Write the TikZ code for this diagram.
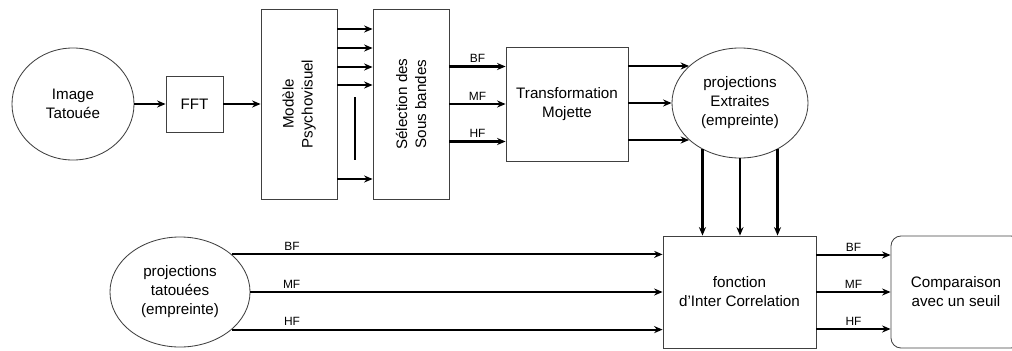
\documentclass[tikz,border=0pt]{standalone}
\usepackage{fontspec}
\setmainfont{Liberation Sans}
\usetikzlibrary{shapes.geometric, arrows.meta, positioning}

\begin{document}
\begin{tikzpicture}[
    x=0.025cm, y=-0.025cm,
    blk/.style={draw=black!75, line width=0.6pt, align=center, font=\fontsize{10.8}{13.5}\selectfont, inner sep=0pt},
    ell/.style={blk, ellipse},
    arr/.style={-{Stealth[length=6pt, width=5pt]}, line width=1.5pt},
    lbl/.style={font=\fontsize{8.5}{10}\selectfont, inner sep=2pt},
]
    \useasboundingbox (0,0) rectangle (1012,350);

    % upper chain
    \node[ell, minimum width=3.05cm, minimum height=2.8cm] (img) at (73,104) {Image\\Tatouée};
    \node[blk, minimum width=1.425cm, minimum height=1.4cm] (fft) at (194.5,104) {FFT};
    \node[blk, minimum width=1.9cm, minimum height=4.75cm] (psy) at (299,104) {};
    \node[rotate=90, align=center, font=\fontsize{10.8}{13.5}\selectfont] at (psy) {Modèle\\Psychovisuel};
    \node[blk, minimum width=1.9cm, minimum height=4.75cm] (sel) at (411,104) {};
    \node[rotate=90, align=center, font=\fontsize{10.8}{13.5}\selectfont] at (sel) {Sélection des\\Sous bandes};
    \node[blk, minimum width=3.05cm, minimum height=2.85cm] (moj) at (567,104) {Transformation\\Mojette};
    \node[ell, minimum width=3.4cm, minimum height=2.75cm] (ext) at (740,103) {projections\\Extraites\\(empreinte)};

    % lower chain
    \node[ell, minimum width=3.5cm, minimum height=2.75cm] (tat) at (180,292) {projections\\tatouées\\(empreinte)};
    \node[blk, minimum width=3.825cm, minimum height=2.8cm] (inter) at (739.5,292) {fonction\\d'Inter Correlation};
    \node[blk, rounded corners=0.25cm, minimum width=3.25cm, minimum height=2.8cm] (comp) at (956,292) {Comparaison\\avec un seuil};

    \draw[arr] (img) -- (fft);
    \draw[arr] (fft) -- (psy);

    \foreach \yy in {29,48,67,85,179}
        \draw[arr] (psy.east |- 0,\yy) -- (sel.west |- 0,\yy);
    \draw[line width=1.5pt] (355,97) -- (355,160);

    \draw[arr] (sel.east |- 0,66.5) -- node[lbl, above] {BF} (moj.west |- 0,66.5);
    \draw[arr] (sel.east |- 0,104) -- node[lbl, above] {MF} (moj.west |- 0,104);
    \draw[arr] (sel.east |- 0,141.5) -- node[lbl, above] {HF} (moj.west |- 0,141.5);

    \draw[arr] (moj.east |- ext.144) -- (ext.144);
    \draw[arr] (moj.east |- ext.west) -- (ext.west);
    \draw[arr] (moj.east |- ext.216) -- (ext.216);

    \draw[arr] (ext.231) -- (ext.231 |- inter.north);
    \draw[arr] (ext.south) -- (ext.south |- inter.north);
    \draw[arr] (ext.309) -- (ext.309 |- inter.north);

    \draw[arr] (tat.36) -- node[lbl, above, pos=0.14] {BF} (inter.west |- tat.36);
    \draw[arr] (tat.east) -- node[lbl, above, pos=0.1] {MF} (inter.west |- tat.east);
    \draw[arr] (tat.324) -- node[lbl, above, pos=0.14] {HF} (inter.west |- tat.324);

    \draw[arr] (inter.east |- 0,255) -- node[lbl, above] {BF} (comp.west |- 0,255);
    \draw[arr] (inter.east |- 0,292) -- node[lbl, above] {MF} (comp.west |- 0,292);
    \draw[arr] (inter.east |- 0,329) -- node[lbl, above] {HF} (comp.west |- 0,329);
\end{tikzpicture}
\end{document}
